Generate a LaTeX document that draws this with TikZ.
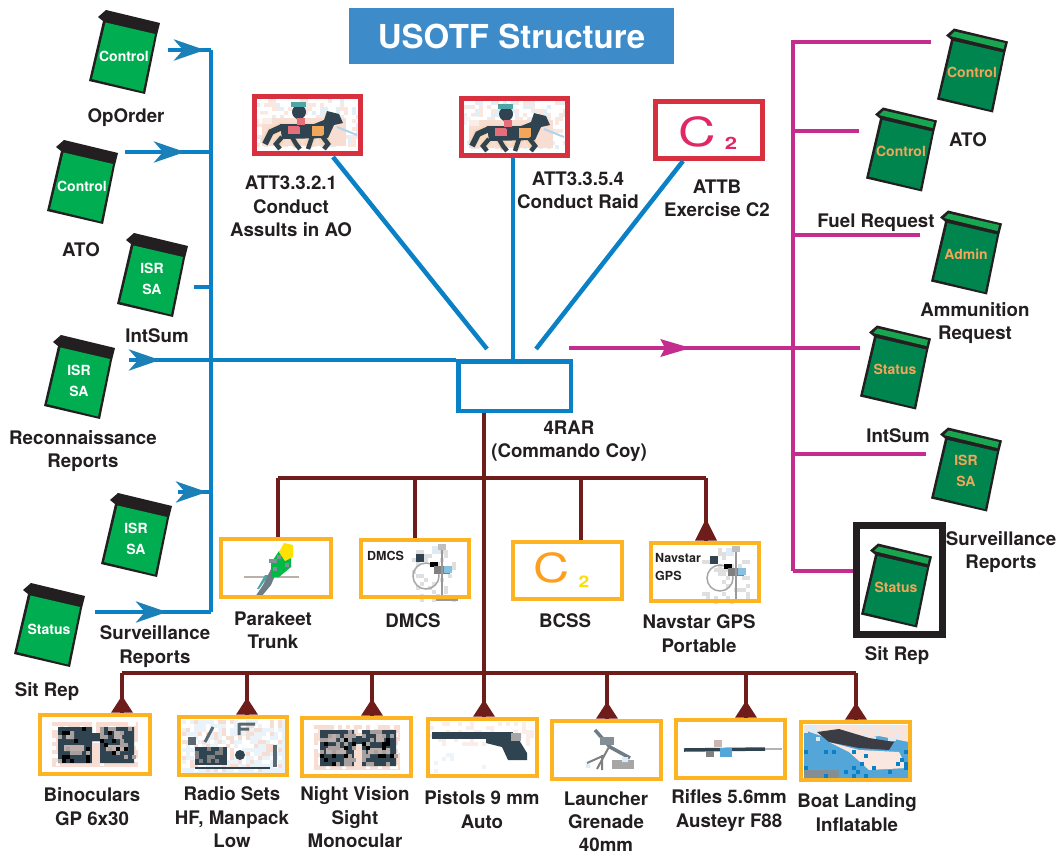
\documentclass[tikz,border=0pt]{standalone}
\usepackage{fontspec}
\setmainfont{TeX Gyre Heros}
\usetikzlibrary{arrows.meta}
\definecolor{bl}{HTML}{0A80C6}
\definecolor{blarrow}{HTML}{1B7FB8}
\definecolor{mg}{HTML}{C42D8E}
\definecolor{br}{HTML}{6F1D1B}
\definecolor{orbox}{HTML}{FDB423}
\definecolor{rdbox}{HTML}{D9303F}
\definecolor{ttl}{HTML}{3D8BC9}
\definecolor{ink}{HTML}{231F20}
\definecolor{gl}{HTML}{00AD50}
\definecolor{gd}{HTML}{00854F}
\definecolor{gt}{HTML}{19A650}
\definecolor{ot}{HTML}{F2A65A}
\definecolor{dk}{HTML}{2F4450}
\definecolor{pk}{HTML}{F8DDD2}
\definecolor{pc}{HTML}{DCEBF5}
\tikzset{
 lab/.style={font=\bfseries\fontsize{18.7}{23.5}\selectfont,text=ink,align=center,inner sep=0pt,yshift=-1.5pt},
 smalltxt/.style={font=\bfseries\fontsize{12.5}{18}\selectfont,text=ink,align=left,inner sep=0pt,anchor=west},
 ftext/.style={font=\bfseries\fontsize{14}{21}\selectfont,align=center,inner sep=0pt},
 bline/.style={draw=bl,line width=4.5pt},
 barrow/.style={draw=bl,line width=4.5pt,-{Stealth[length=31pt,width=21pt,inset=9pt,color=blarrow]}},
 mline/.style={draw=mg,line width=4.8pt},
 marrow/.style={draw=mg,line width=4.8pt,-{Stealth[length=30pt,width=17pt,inset=4pt,color=mg]}},
 rline/.style={draw=br,line width=3.5pt},
 redbox/.style={draw=rdbox,line width=5pt,inner sep=0pt},
 orbx/.style={draw=orbox,line width=4.6pt,inner sep=0pt},
 bluebox/.style={draw=bl,line width=4.5pt,inner sep=0pt},
 blackbox/.style={draw=ink,line width=7pt,inner sep=0pt},
}
% framed box by its centre line: style, name, x0,y0,x1,y1
\newcommand\bx[6]{\pgfmathsetmacro\bxw{#5-#3}\pgfmathsetmacro\bxh{#6-#4}%
 \node[#1,minimum width=\bxw pt,minimum height=\bxh pt] (#2) at ({(#3+#5)/2},{(#4+#6)/2}) {};}
% folder: name,x,y,body,tab,text colour,text, shape offset
\newcommand\folder[8]{\begin{scope}[shift={(#2,#3+#8)}]
 \fill[ink] (-26,-39)--(-18,-46)--(36,-33)--(33,-21)--(21,38)--(-35,25)--(-21,-35)--cycle;
 \fill[#4] (-18.5,-33.5)--(31,-22)--(19,35.5)--(-32,23)--cycle;
 \fill[#5] (-22,-38.5)--(-17.5,-43)--(33,-31.5)--(31.5,-25.5)--cycle;
 \end{scope}
 \node[ftext,text=#6] (#1) at (#2,#3) {#7};}
% random speckle: x0,y0,nx,ny,cell,colour,threshold
\newcommand\speck[7]{\foreach \i in {1,...,#3}\foreach \j in {1,...,#4}{%
 \pgfmathrandominteger{\rr}{0}{9}\ifnum\rr<#7\relax
 \fill[#6] ({#1+(\i-1)*#5},{#2+(\j-1)*#5}) rectangle +(#5,#5);\fi}}
\newcommand\horseicon{%
 \speck{4}{5}{26}{12}{4}{pk!70}{3}\speck{4}{5}{26}{12}{4}{pc!80}{2}
 \fill[pk] (10,24) rectangle (94,52);
 \fill[white,opacity=.5] (6,20) rectangle (20,30);
 \draw[ot!45,line width=9pt] (13,48)--(19,38)--(30,33)--(70,33)--(82,24) (30,43)--(24,50) (40,43)--(46,52) (60,43)--(56,52) (70,42)--(76,52);
 \draw[dk,line width=6pt] (13,50)--(19,38)--(30,33);
 \fill[dk] (28,30)--(62,30)--(72,26)--(75,17)--(87,20)--(91,29)--(82,31)--(76,44)--(30,45)--cycle;
 \fill[rdbox!70] (36,32) rectangle (48,40);\fill[ot] (60,32) rectangle (72,42);
 \draw[dk,line width=4.5pt] (30,43)--(24,50)--(28,55) (40,43)--(44,50)--(48,55) (60,43)--(56,55) (70,42)--(76,50)--(72,55);
 \fill[dk] (47,18) circle (7);\fill[teal!70] (39,8) rectangle (54,13);
 \draw[dk,line width=6pt] (47,22)--(50,32);\fill[rdbox!70] (45,24) rectangle (53,31);
 \draw[pc!40!bl!50,line width=2pt] (85,33)--(105,41);}
\newcommand\binocicon{%
 \fill[pk] (14,9) rectangle (100,54);
 \speck{14}{9}{22}{11}{4}{white}{3}
 \fill[dk] (20,14) rectangle (54,50) (62,14) rectangle (96,50) (50,20) rectangle (66,28);
 \fill[pk] (54,30) rectangle (62,54);
 \fill[pk!70!dk] (26,32) rectangle (46,38) (68,32) rectangle (90,38) (28,18) rectangle (36,26) (76,18) rectangle (84,26);
 \speck{20}{14}{9}{9}{4}{pk!60!dk}{2}\speck{62}{14}{9}{9}{4}{pk!60!dk}{2}
 \speck{20}{14}{9}{9}{4}{black}{1}\speck{62}{14}{9}{9}{4}{black}{1}}
\newcommand\figicon{%
 \speck{-24}{-24}{12}{14}{4}{gray!25}{2}
 \draw[gray!70,line width=1.5pt] (-6,6) circle (13);
 \fill[dk] (-16,-16) rectangle (-8,-8);\fill[black] (-2,-8) rectangle (6,-3);
 \fill[gray] (2,-4) rectangle (18,4);\fill[pc!60!bl] (12,-4) rectangle (20,3);
 \draw[gray!80,line width=1.5pt] (10,-22)--(10,27) (4,30)--(26,30);
 \fill[pc] (0,-24) rectangle (8,-16);\fill[gray!50] (6,-26) rectangle (14,-20);}
\begin{document}
\begin{tikzpicture}[x=1pt,y=-1pt]
\useasboundingbox (0,0) rectangle (1063,852);
\fill[white] (0,0) rectangle (1063,852);
\pgfmathsetseed{1234}
% title
\node[fill=ttl,text=white,font=\bfseries\fontsize{33}{40}\selectfont,minimum width=325pt,minimum height=56pt,inner sep=0pt,text depth=1pt] (title) at (511.5,36) {\raisebox{-1.5pt}{USOTF Structure}};

% coordinates of free ends and junctions
\foreach \n/\x/\y in {bt/211/50,bb/211/612,b1a/168/50,b1t/205/50,b2a/125/152,b2t/185/152,b2b/211/152,
 b3a/194/287,b3b/211/287,b4a/129/360,b4t/160/360,b5a/178/492,b5t/207/492,b5b/211/492,b6a/95/612,b6t/167/612,
 l1a/333/157,l1b/487/349,l2a/513/158,l2b/513/360,l3a/683/161,l3b/536/349,
 mt/793/40,mb/793/571,m0a/569/348,m0t/691/348,m0b/860/348,m1a/793/42,m1/931/42,m2a/793/131,m2/859/131,m3a/793/235,m3/920/235,
 m4a/793/454,m4/926/454,m5a/793/571,
 tl/278/478,tr/706/478,tc/484/478,tb/484/673,t2/415/478,t3/581/478,
 bl1/122/673,bl2/247/673,bl3/372/673,bl4/484/673,bl5/607/673,bl6/746/673,bl7/856/673}
 {\coordinate (\n) at (\x,\y);}

% icons: task pictures
\begin{scope}[shift={(252,94)}]\horseicon\end{scope}
\begin{scope}[shift={(459,96)}]\horseicon\end{scope}
\node[font=\fontsize{40}{40}\selectfont,text=rdbox!80!magenta,inner sep=0pt] (c2a) at (697,132) {\scalebox{1.3}[1]{C}};
\node[font=\bfseries\fontsize{17}{17}\selectfont,text=rdbox!80!magenta,inner sep=0pt] (c2b) at (731,143) {\scalebox{1.3}[1]{2}};

% parakeet
\begin{scope}[shift={(219,537)}]
 \draw[pk!50!gray,line width=2.5pt] (25,40)--(80,40);
 \fill[teal!70] (40,52)--(50,38)--(46,38)--(38,52)--cycle;
 \fill[dk!70] (36,60)--(44,48)--(54,28)--(58,34)--(52,48)--(42,60)--cycle;
 \fill[green!45!teal] (52,26)--(60,14)--(72,16)--(72,30)--(60,40)--(52,40)--cycle;
 \fill[yellow!85!orange] (60,15)--(65,6)--(74,8)--(74,20)--(66,24)--cycle;
 \speck{50}{14}{5}{6}{4}{dk!60}{2}
\end{scope}
% DMCS, Navstar figures
\node[smalltxt] (dmicon) at (367,556) {DMCS};
\begin{scope}[shift={(432,570)}]\figicon\end{scope}
\node[smalltxt] (navicon) at (655,567) {Navstar\\GPS};
\begin{scope}[shift={(726,572)}]\figicon\end{scope}
% BCSS
\node[font=\fontsize{40}{40}\selectfont,text=orbox!88!red,inner sep=0pt] (c3a) at (552,568) {\scalebox{1.25}[1]{C}};
\node[font=\bfseries\fontsize{16}{16}\selectfont,text=yellow!80!orange,inner sep=0pt] (c3b) at (584,582) {\scalebox{1.2}[1]{2}};

% binoculars
\begin{scope}[shift={(38,713)}]\binocicon\end{scope}
\begin{scope}[shift={(300,716)}]\binocicon\end{scope}
% radio
\begin{scope}[shift={(177,715)}]
 \fill[pc!60] (5,5) rectangle (108,58);
 \speck{5}{5}{25}{13}{4}{pk}{3}
 \speck{5}{5}{25}{13}{4}{white}{3}
 \fill[dk] (18,32) rectangle (50,50);
 \speck{18}{32}{8}{4}{4}{gray}{3}
 \draw[dk,line width=2pt] (18,53)--(93,53);
 \fill[dk] (63,40) circle (5);
 \draw[dk!80,line width=3pt] (28,27)--(36,12) (62,8)--(62,20) (62,9)--(78,9) (62,14)--(72,14);
 \fill[dk!80] (11,22) rectangle (19,30);
 \draw[dk!80,line width=4pt] (98,30)--(98,52);
\end{scope}
% pistol
\begin{scope}[shift={(426,717)}]
 \speck{4}{5}{26}{6}{4}{pk!50}{3}
 \fill[dk] (6,15) rectangle (87,22);
 \fill[dk] (60,20)--(90,18)--(101,36)--(101,43)--(82,43)--(76,30)--(60,26)--cycle;
 \fill[gray!70] (85,16) rectangle (95,24);
 \speck{4}{28}{18}{7}{4}{pc!50}{1}
\end{scope}
% launcher
\begin{scope}[shift={(550,719)}]
 \draw[dk!70,line width=3.5pt] (45,11)--(60,28)--(80,39);
 \fill[dk!60] (50,18) rectangle (64,26);
 \draw[gray,line width=2pt] (60,26)--(47,50) (55,36)--(37,44) (52,36)--(52,51);
 \fill[gray!70] (62,41) rectangle (84,50);
 \fill[pc] (36,45) rectangle (40,49) (72,38) rectangle (78,43);
\end{scope}
% rifle
\begin{scope}[shift={(674,718)}]
 \draw[dk,line width=3.5pt] (10,32)--(91,31);
 \draw[gray!60,line width=1.5pt] (91,31)--(108,31);
 \fill[pk!60!gray] (40,22) rectangle (48,29);
 \fill[gray] (32,33) rectangle (40,39);
 \fill[bl!70] (46,30) rectangle (58,39);
\end{scope}
% boat
\begin{scope}[shift={(799,720)}]
 \fill[bl!70] (5,5) rectangle (110,58);
 \fill[pk!80] (5,5)--(110,5)--(110,22)--(80,16)--(40,22)--(5,10)--cycle;
 \speck{5}{5}{26}{4}{4}{pc}{2}
 \fill[pk!70] (30,22)--(60,30)--(100,32)--(108,48)--(70,50)--(50,32)--cycle;
 \fill[dk!80!br] (18,12)--(40,9)--(70,18)--(95,22)--(90,30)--(60,28)--(30,22)--cycle;
 \fill[dk!60] (5,50) rectangle (40,58);
 \speck{5}{30}{26}{7}{4}{bl}{1}
\end{scope}

% framed boxes
\bx{redbox}{att1}{254.5}{96.5}{360.5}{153.5}
\bx{redbox}{att2}{461.5}{98.5}{567.5}{155.5}
\bx{redbox}{att3}{655.5}{101.5}{762.5}{158.5}
\bx{bluebox}{rar}{458.5}{361.5}{571}{411}
\bx{orbx}{park}{221}{539}{331}{597}
\bx{orbx}{dmcs}{361}{540}{469}{597}
\bx{orbx}{bcss}{513}{542}{622}{599}
\bx{orbx}{nav}{651}{543}{759}{601}
\bx{orbx}{bin}{40}{715}{150}{774}
\bx{orbx}{rad}{179}{717}{287}{775}
\bx{orbx}{nvs}{302}{718}{411}{776}
\bx{orbx}{pis}{428}{719}{537}{776}
\bx{orbx}{lau}{552}{721}{661}{779}
\bx{orbx}{rif}{676}{720}{785}{778}
\bx{orbx}{boa}{801}{722}{910}{780}
\bx{blackbox}{sit}{856.5}{525.5}{942.5}{634.5}

% left folders
\folder{fl1}{124}{56}{gl}{ink}{white}{Control}{0}
\folder{fl2}{82}{186}{gl}{ink}{white}{Control}{0}
\folder{fl3}{152}{279}{gl}{ink}{white}{ISR\\SA}{0}
\folder{fl4}{79}{381}{gl}{ink}{white}{ISR\\SA}{0}
\folder{fl5}{136}{539}{gl}{ink}{white}{ISR\\SA}{0}
\folder{fl6}{49}{629}{gl}{ink}{white}{Status}{0}
% right folders
\folder{fr1}{972}{72}{gd}{gt}{ot}{Control}{2.5}
\folder{fr2}{901}{151}{gd}{gt}{ot}{Control}{2.5}
\folder{fr3}{966}{254}{gd}{gt}{ot}{Admin}{2.5}
\folder{fr4}{895}{369}{gd}{gt}{ot}{Status}{2.5}
\folder{fr5}{966}{471}{gd}{gt}{ot}{ISR\\SA}{2.5}
\folder{fr6}{896}{587}{gd}{gt}{ot}{Status}{2.5}

% blue connectors
\draw[bline] (bt)--(bb);
\draw[bline] (b1a)--(bt);
\draw[bline] (b2a)--(b2b);
\draw[bline] (b3a)--(b3b);
\draw[bline] (b4a)--(rar.west |- b4a);
\draw[bline] (b5a)--(b5b);
\draw[bline] (b6a)--(bb);
\draw[barrow] (b1a)--(b1t);
\draw[barrow] (b2a)--(b2t);
\draw[barrow] (b4a)--(b4t);
\draw[barrow] (b5a)--(b5t);
\draw[barrow] (b6a)--(b6t);
\draw[bline] (l1a)--(l1b);
\draw[bline] (l2a)--(l2b);
\draw[bline] (l3a)--(l3b);
% magenta connectors
\draw[mline] (mt)--(mb);
\draw[mline] (m1a)--(m1);
\draw[mline] (m2a)--(m2);
\draw[mline] (m3a)--(m3);
\draw[mline] (m0a)--(m0b);
\draw[mline] (m4a)--(m4);
\draw[mline] (m5a)--(sit.west |- m5a);
\draw[marrow] (m0a)--(m0t);
% brown connectors
\draw[rline] (rar.south -| tc)--(tb);
\draw[rline] (tl)--(tr);
\draw[rline] (tl)--(tl |- park.north);
\draw[rline] (t2)--(t2 |- dmcs.north);
\draw[rline] (t3)--(t3 |- bcss.north);
\draw[rline] (tr)--(tr |- nav.north);
\fill[br] ([xshift=-11pt]tr |- nav.north)--([yshift=22pt]tr |- nav.north)--([xshift=11pt]tr |- nav.north)--cycle;
\draw[rline] (bl1)--(bl7);
\foreach \c/\b in {bl1/bin,bl2/rad,bl3/nvs,bl4/pis,bl5/lau,bl6/rif,bl7/boa}{
 \draw[rline] (\c)--(\c |- \b.north);
 \fill[br] ([xshift=-11pt]\c |- \b.north)--([yshift=17pt]\c |- \b.north)--([xshift=11pt]\c |- \b.north)--cycle;
}

% labels
\node[lab] (t01) at (126,116) {OpOrder};
\node[lab] (t02) at (81,248) {ATO};
\node[lab] (t03) at (157,334) {IntSum};
\node[lab] (t04) at (83,449.5) {Reconnaissance\\Reports};
\node[lab] (t05) at (155,645) {Surveillance\\Reports};
\node[lab] (t06) at (47,690) {Sit Rep};
\node[lab] (t07) at (291,205) {ATT3.3.2.1\\Conduct\\Assults in AO};
\node[lab] (t08) at (578,189) {ATT3.3.5.4\\Conduct Raid};
\node[lab] (t09) at (717,197) {ATTB\\Exercise C2};
\node[lab] (t10) at (569,439.5) {4RAR\\(Commando Coy)};
\node[lab] (t11) at (968,138) {ATO};
\node[lab] (t12) at (876,221) {Fuel Request};
\node[lab] (t13) at (975,321.5) {Ammunition\\Request};
\node[lab] (t14) at (898,434) {IntSum};
\node[lab] (t15) at (1001,550.5) {Surveillance\\Reports};
\node[lab] (t16) at (897,654.5) {Sit Rep};
\node[lab] (t17) at (273,629) {Parakeet\\Trunk};
\node[lab] (t18) at (413,619) {DMCS};
\node[lab] (t19) at (565,619) {BCSS};
\node[lab] (t20) at (699,632) {Navstar GPS\\Portable};
\node[lab] (t21) at (92,805) {Binoculars\\GP 6x30};
\node[lab] (t22) at (232,816) {Radio Sets\\HF, Manpack\\Low};
\node[lab] (t23) at (355,816) {Night Vision\\Sight\\Monocular};
\node[lab] (t24) at (482,808) {Pistols 9 mm\\Auto};
\node[lab] (t25a) at (606,809) {Launcher\\Grenade};
\node[lab] (t25b) at (606,843) {40mm};
\node[lab] (t26) at (729,809) {Rifles 5.6mm\\Austeyr F88};
\node[lab] (t27) at (857,811) {Boat Landing\\Inflatable};
\end{tikzpicture}
\end{document}
